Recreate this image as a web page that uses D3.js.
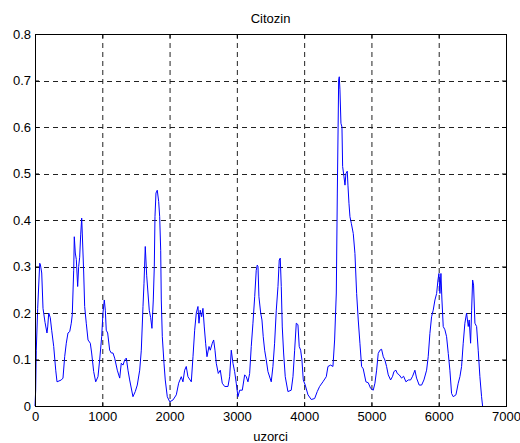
<!DOCTYPE html>
<html>
<head>
<meta charset="utf-8">
<script src="https://cdn.jsdelivr.net/npm/d3@7"></script>
<style>
  body { margin: 0; background: #fff; }
  svg text { font-family: "Liberation Sans", Arial, sans-serif; }
</style>
</head>
<body>
<div id="chart"></div>
<script>
"use strict";

var chartTitle = "Citozin";
var xLabel = "uzorci";
var xTicks = [0, 1000, 2000, 3000, 4000, 5000, 6000, 7000];
var yTicks = [0, 0.1, 0.2, 0.3, 0.4, 0.5, 0.6, 0.7, 0.8];

// samples (sample index, value)
var sampleIdx = [
    0, 10, 19, 40, 70, 79, 100, 119, 149, 178, 189, 204, 227, 248, 278, 308, 327, 391, 416, 441,
    465, 490, 516, 539, 554, 575, 584, 599, 614, 634, 649, 664, 679, 694, 703, 724, 738, 762, 788, 822,
    842, 872, 902, 936, 961, 991, 1010, 1030, 1045, 1059, 1080, 1110, 1134, 1159, 1184, 1223, 1259, 1282, 1308, 1333,
    1357, 1382, 1407, 1456, 1490, 1520, 1556, 1580, 1605, 1620, 1639, 1660, 1679, 1698, 1719, 1738, 1758, 1773, 1783, 1798,
    1817, 1838, 1853, 1868, 1877, 1892, 1917, 1936, 1966, 2002, 2051, 2100, 2135, 2174, 2199, 2224, 2248, 2273, 2323, 2348,
    2373, 2397, 2422, 2437, 2456, 2477, 2496, 2516, 2536, 2556, 2586, 2605, 2635, 2655, 2675, 2694, 2724, 2754, 2783, 2819,
    2868, 2893, 2917, 2942, 2967, 2991, 3016, 3042, 3081, 3116, 3140, 3165, 3190, 3214, 3239, 3265, 3288, 3303, 3314, 3328,
    3354, 3373, 3392, 3413, 3437, 3462, 3511, 3536, 3561, 3586, 3611, 3630, 3645, 3660, 3675, 3695, 3719, 3759, 3808, 3834,
    3859, 3883, 3908, 3927, 3948, 3967, 3987, 4016, 4057, 4106, 4156, 4195, 4230, 4279, 4329, 4354, 4394, 4428, 4453, 4478,
    4493, 4513, 4522, 4532, 4547, 4562, 4572, 4592, 4607, 4621, 4641, 4651, 4666, 4681, 4701, 4730, 4755, 4780, 4804, 4829,
    4854, 4878, 4918, 4953, 4988, 5027, 5052, 5077, 5101, 5126, 5151, 5176, 5200, 5225, 5250, 5285, 5315, 5334, 5364, 5384,
    5413, 5448, 5478, 5513, 5547, 5582, 5612, 5646, 5671, 5710, 5746, 5780, 5820, 5844, 5869, 5894, 5918, 5944, 5969, 5989,
    6003, 6018, 6033, 6048, 6067, 6092, 6117, 6142, 6166, 6191, 6216, 6256, 6290, 6315, 6340, 6364, 6389, 6414, 6439, 6453,
    6474, 6489, 6504, 6518, 6538, 6563, 6587, 6612, 6637, 6652
];
var sampleVal = [
    0, 0.034, 0.12, 0.21, 0.307, 0.305, 0.286, 0.21, 0.18, 0.157, 0.17, 0.2, 0.19, 0.163, 0.128, 0.077, 0.052, 0.056, 0.06, 0.106,
    0.135, 0.157, 0.16, 0.178, 0.196, 0.292, 0.364, 0.329, 0.315, 0.257, 0.30, 0.32, 0.368, 0.404, 0.37, 0.286, 0.214, 0.178, 0.142, 0.135,
    0.114, 0.074, 0.052, 0.063, 0.099, 0.149, 0.2, 0.228, 0.206, 0.163, 0.157, 0.12, 0.114, 0.114, 0.103, 0.077, 0.06, 0.092, 0.088, 0.099,
    0.103, 0.077, 0.056, 0.02, 0.031, 0.045, 0.077, 0.12, 0.214, 0.264, 0.343, 0.28, 0.243, 0.206, 0.19, 0.167, 0.228, 0.3, 0.407, 0.458,
    0.464, 0.44, 0.407, 0.335, 0.228, 0.149, 0.092, 0.056, 0.02, 0.009, 0.013, 0.024, 0.049, 0.063, 0.052, 0.077, 0.085, 0.063, 0.052, 0.106,
    0.163, 0.2, 0.214, 0.178, 0.206, 0.192, 0.21, 0.17, 0.135, 0.106, 0.128, 0.12, 0.135, 0.142, 0.12, 0.092, 0.07, 0.077, 0.049, 0.042,
    0.042, 0.063, 0.12, 0.092, 0.074, 0.049, 0.02, 0.034, 0.034, 0.067, 0.063, 0.052, 0.07, 0.128, 0.178, 0.235, 0.292, 0.303, 0.3, 0.235,
    0.2, 0.185, 0.149, 0.12, 0.099, 0.074, 0.052, 0.085, 0.135, 0.206, 0.257, 0.314, 0.318, 0.257, 0.17, 0.114, 0.063, 0.031, 0.034, 0.063,
    0.12, 0.178, 0.175, 0.128, 0.12, 0.099, 0.056, 0.045, 0.024, 0.014, 0.016, 0.031, 0.042, 0.052, 0.063, 0.085, 0.088, 0.085, 0.142, 0.243,
    0.458, 0.701, 0.708, 0.68, 0.608, 0.60, 0.515, 0.493, 0.475, 0.5, 0.505, 0.475, 0.436, 0.407, 0.393, 0.371, 0.328, 0.242, 0.185, 0.135,
    0.085, 0.08, 0.052, 0.05, 0.038, 0.034, 0.049, 0.077, 0.113, 0.12, 0.122, 0.106, 0.099, 0.085, 0.067, 0.056, 0.064, 0.074, 0.077, 0.07,
    0.067, 0.06, 0.064, 0.052, 0.056, 0.056, 0.064, 0.077, 0.06, 0.045, 0.045, 0.056, 0.077, 0.106, 0.156, 0.192, 0.206, 0.228, 0.242, 0.271,
    0.285, 0.242, 0.285, 0.228, 0.171, 0.164, 0.149, 0.113, 0.077, 0.027, 0.02, 0.024, 0.049, 0.063, 0.085, 0.135, 0.178, 0.2, 0.171, 0.185,
    0.135, 0.206, 0.271, 0.26, 0.178, 0.171, 0.12, 0.063, 0.02, 0
];

var totalW = 520, totalH = 443;
var margin = { top: 34, right: 14, bottom: 37, left: 35 };
var width = totalW - margin.left - margin.right;
var height = totalH - margin.top - margin.bottom;

var data = sampleIdx.map(function (d, i) { return { x: d, y: sampleVal[i] }; });

var svg = d3.select("#chart").append("svg")
    .attr("width", totalW)
    .attr("height", totalH);

var g = svg.append("g")
    .attr("transform", "translate(" + margin.left + "," + margin.top + ")");

var x = d3.scaleLinear().domain([0, 7000]).range([0, width]);
var y = d3.scaleLinear().domain([0, 0.8]).range([height, 0]);

// dashed grid
g.append("g").selectAll("line.vgrid")
  .data(xTicks.slice(1, -1))
  .enter().append("line")
    .attr("x1", function (d) { return x(d) + 0.5; })
    .attr("x2", function (d) { return x(d) + 0.5; })
    .attr("y1", 0).attr("y2", height)
    .attr("stroke", "#222")
    .attr("stroke-dasharray", "5,4");
g.append("g").selectAll("line.hgrid")
  .data(yTicks.slice(1, -1))
  .enter().append("line")
    .attr("y1", function (d) { return Math.round(y(d)) + 0.5; })
    .attr("y2", function (d) { return Math.round(y(d)) + 0.5; })
    .attr("x1", 0).attr("x2", width)
    .attr("stroke", "#222")
    .attr("stroke-dasharray", "5,4");

// the curve
var line = d3.line()
    .x(function (d) { return x(d.x); })
    .y(function (d) { return y(d.y); });
g.append("path")
    .datum(data)
    .attr("fill", "none")
    .attr("stroke", "#0000ff")
    .attr("stroke-width", 1)
    .attr("d", line);

// axes, matlab style with ticks pointing in
var fmtY = function (d) { return d === 0 ? "0" : d3.format(".1f")(d); };
var xAxis = d3.axisBottom(x).tickValues(xTicks).tickSize(-4).tickPadding(6).tickFormat(d3.format("d"));
var yAxis = d3.axisLeft(y).tickValues(yTicks).tickSize(-4).tickPadding(4).tickFormat(fmtY);
var gx = g.append("g").attr("transform", "translate(0," + height + ")").call(xAxis);
var gy = g.append("g").call(yAxis);
g.append("g").call(d3.axisTop(x).tickValues(xTicks).tickSize(-4).tickFormat(""));
g.append("g").attr("transform", "translate(" + width + ",0)")
    .call(d3.axisRight(y).tickValues(yTicks).tickSize(-4).tickFormat(""));

g.selectAll(".domain").remove();
g.selectAll(".tick line").attr("stroke", "#000");
[gx, gy].forEach(function (a) {
    a.selectAll("text").style("font-size", "13px").attr("fill", "#000");
});

g.append("rect")
    .attr("x", 0.5).attr("y", 0.5)
    .attr("width", width).attr("height", height)
    .attr("fill", "none")
    .attr("stroke", "#000")
    .attr("stroke-width", 1);

svg.append("text")
    .attr("x", margin.left + width / 2)
    .attr("y", 23)
    .attr("text-anchor", "middle")
    .style("font-size", "13px")
    .text(chartTitle);

svg.append("text")
    .attr("x", margin.left + width / 2)
    .attr("y", 441)
    .attr("text-anchor", "middle")
    .style("font-size", "13px")
    .text(xLabel);
</script>
</body>
</html>
